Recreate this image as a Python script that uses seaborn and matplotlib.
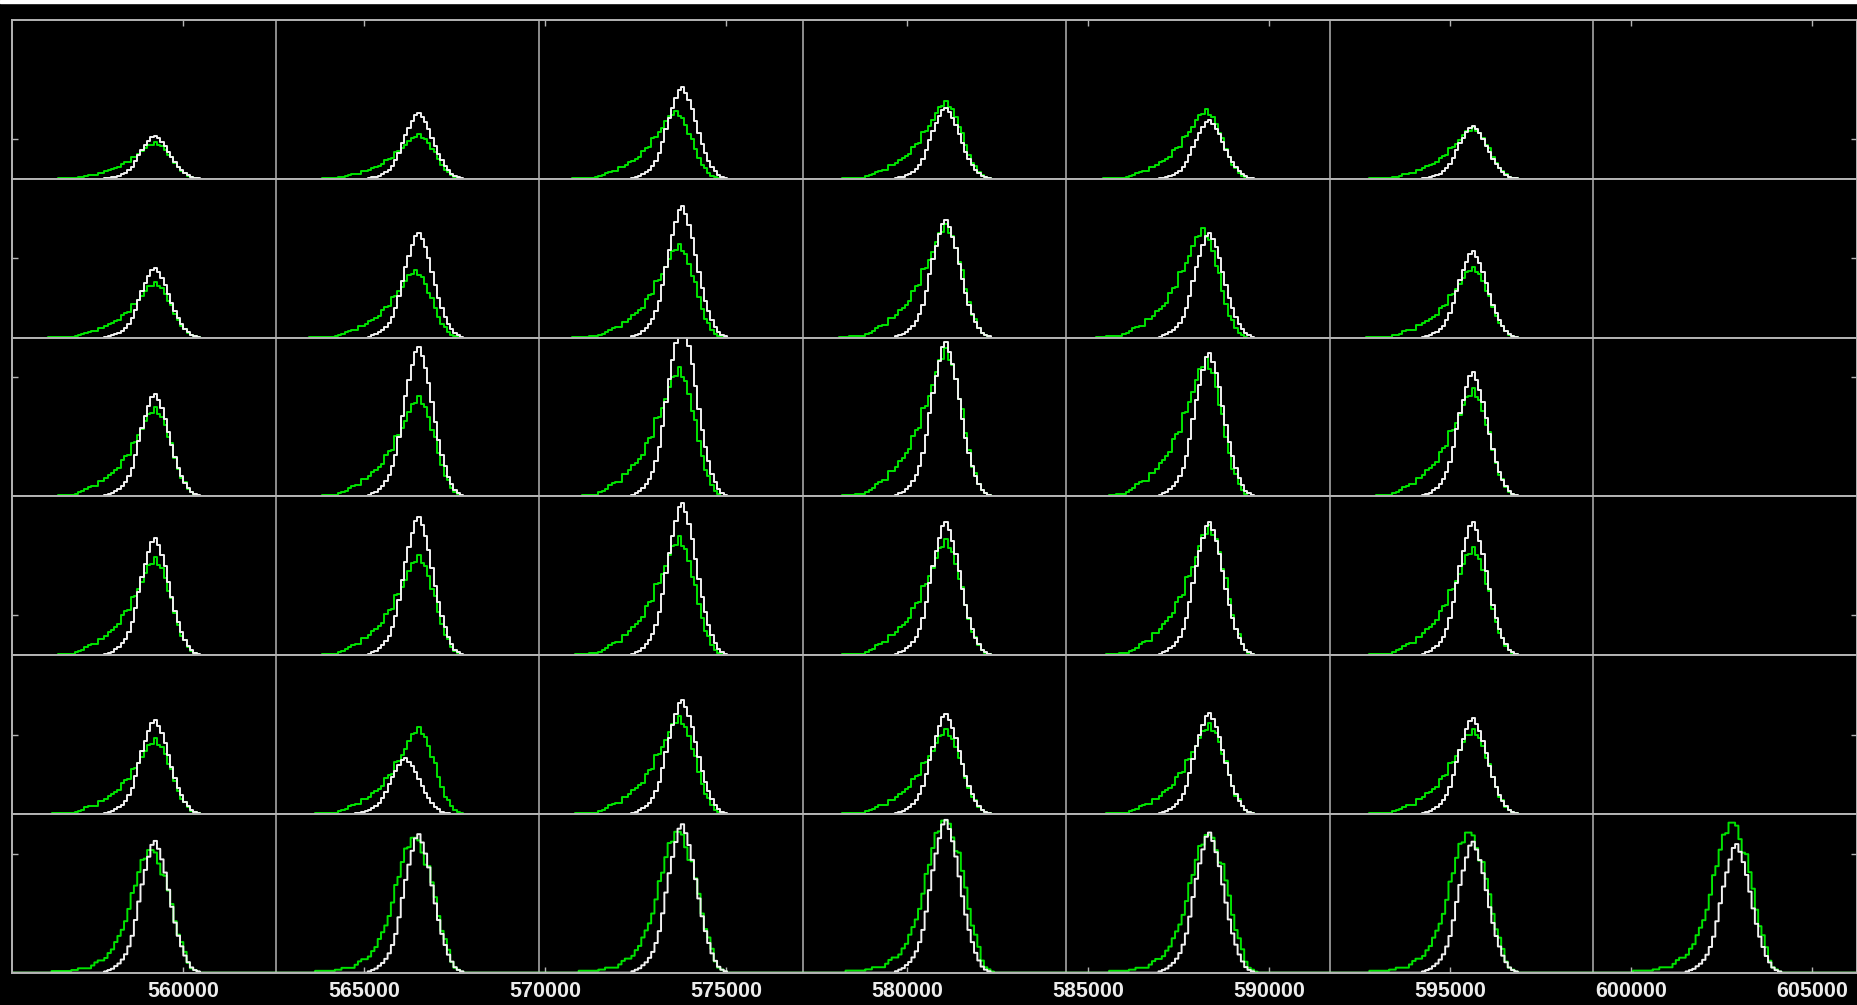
import numpy as np
import matplotlib
matplotlib.use("Agg")
import matplotlib.pyplot as plt
from matplotlib.patches import Rectangle
import seaborn as sns

# x axis: 7 panels side by side, 80 bins each
x_start = 555280
panel_width = 7280
n_bins = 80
n_rows, n_cols = 6, 7
row_height = 4
xtick_values = [560000, 565000, 570000, 575000, 580000, 585000, 590000, 595000, 600000, 605000]
xtick_labels = [str(v) for v in xtick_values]
ytick_values = [3, 6, 9, 15, 18, 21]   # on the stacked scale, rows are 4 high

# peak shapes (normalised to their maximum)
white_shape = [0.01, 0.02, 0.03, 0.05, 0.07, 0.10, 0.14, 0.20, 0.28, 0.40, 0.54, 0.67, 0.78, 0.88,
               0.97, 1.00, 0.94, 0.86, 0.76, 0.63, 0.50, 0.38, 0.28, 0.20, 0.13, 0.08, 0.04, 0.02, 0.01]
white_start = 28
green_tail_shape = [0.003, 0.006, 0.006, 0.011, 0.011, 0.014, 0.014, 0.014, 0.03, 0.043, 0.057, 0.086,
                    0.10, 0.11, 0.11, 0.17, 0.17, 0.20, 0.24, 0.26, 0.29, 0.32, 0.41, 0.45, 0.46, 0.60,
                    0.61, 0.68, 0.75, 0.84, 0.92, 0.93, 1.00, 0.92, 0.89, 0.79, 0.66, 0.59, 0.43, 0.31,
                    0.20, 0.16, 0.086, 0.043, 0.02, 0.006]
green_tail_start = 11
green_clean_shape = [0.014, 0.014, 0.014, 0.014, 0.014, 0.014, 0.022, 0.022, 0.036, 0.036, 0.036, 0.036,
                     0.059, 0.084, 0.10, 0.10, 0.12, 0.16, 0.19, 0.25, 0.30, 0.35, 0.42, 0.52, 0.65, 0.71,
                     0.82, 0.92, 0.93, 1.00, 1.00, 0.98, 0.89, 0.80, 0.79, 0.67, 0.56, 0.42, 0.31, 0.25,
                     0.17, 0.08, 0.036, 0.022, 0.008]
green_clean_start = 13

# peak heights per panel (row units, 0..4), rows top to bottom
white_peak = [
    [1.09, 1.65, 2.30, 1.79, 1.47, 1.33, 0],
    [1.75, 2.64, 3.31, 2.96, 2.64, 2.17, 0],
    [2.58, 3.76, 4.40, 3.88, 3.61, 3.12, 0],
    [2.94, 3.49, 3.84, 3.35, 3.35, 3.35, 0],
    [2.36, 1.40, 2.87, 2.51, 2.55, 2.42, 0],
    [3.32, 3.49, 3.74, 3.85, 3.53, 3.30, 3.24],
]
green_peak = [
    [0.92, 1.13, 1.72, 1.97, 1.75, 1.30, 0],
    [1.40, 1.71, 2.36, 2.87, 2.75, 1.79, 0],
    [2.26, 2.52, 3.27, 3.73, 3.50, 2.73, 0],
    [2.46, 2.52, 2.99, 2.92, 3.28, 2.73, 0],
    [1.90, 2.18, 2.47, 2.13, 2.28, 2.15, 0],
    [3.09, 3.40, 3.55, 3.83, 3.47, 3.53, 3.78],
]
# peak offsets in bins
white_shift = [
    [0, 0, 0, 0, 0, 0, 0],
    [0, 0, 0, 0, 0, 0, 0],
    [0, 0, 0, 0, 0, 0, 0],
    [0, 0, 0, 0, 0, 0, 0],
    [0, -4, 0, 0, 0, 0, 0],
    [0, 0, 0, 0, 0, 0, 0],
]
green_shift = [
    [0, 0, -2, 0, -1, 0, 0],
    [0, -1, -1, 0, -2, 0, 0],
    [0, 0, -1, 0, -1, 0, 0],
    [0, 0, -1, 0, 0, 0, 0],
    [0, 0, -1, 0, 0, 0, 0],
    [-1, -1, -1, 0, 0, -1, -1],
]

white_color = "#f2f2f2"
green_color = "#00e400"
frame_color = "#b4b4b4"


def row_counts(shape, start, peaks, shifts, ncols):
    counts = np.zeros(ncols * n_bins)
    for c in range(ncols):
        if peaks[c] <= 0:
            continue
        i0 = c * n_bins + start + shifts[c]
        counts[i0:i0 + len(shape)] += peaks[c] * np.asarray(shape)
    return counts


sns.set_style("dark")
plt.rcParams["font.family"] = ["Liberation Sans", "DejaVu Sans"]
plt.rcParams["font.weight"] = "bold"

fig, axes = plt.subplots(n_rows, 1, figsize=(18.58, 10.05), dpi=100, sharex=True)
fig.patch.set_facecolor("black")
fig.subplots_adjust(left=12 / 1858, right=1857 / 1858, top=1 - 20 / 1005, bottom=1 - 972.7 / 1005, hspace=0)

bin_w = panel_width / n_bins
x_end = x_start + n_cols * panel_width

for r, ax in enumerate(axes):
    ax.set_facecolor("black")
    ncols = n_cols if r == n_rows - 1 else n_cols - 1
    edges = x_start + np.arange(ncols * n_bins + 1) * bin_w
    centers = (edges[:-1] + edges[1:]) / 2

    gshape = green_clean_shape if r == n_rows - 1 else green_tail_shape
    gstart = green_clean_start if r == n_rows - 1 else green_tail_start
    gcounts = row_counts(gshape, gstart, green_peak[r], green_shift[r], ncols)
    wcounts = row_counts(white_shape, white_start, white_peak[r], white_shift[r], ncols)

    sns.histplot(x=centers, weights=gcounts, bins=list(edges), element="step", fill=False,
                 color=green_color, linewidth=1.4, ax=ax)
    sns.histplot(x=centers, weights=wcounts, bins=list(edges), element="step", fill=False,
                 color=white_color, linewidth=1.4, ax=ax)

    for c in range(1, n_cols):
        ax.axvline(x_start + c * panel_width, color=frame_color, lw=1.1, zorder=0)

    ax.set_xlim(x_start, x_end)
    ax.set_ylim(0, row_height)
    ax.set_xlabel("")
    ax.set_ylabel("")
    ax.grid(False)
    for s in ax.spines.values():
        s.set_color(frame_color)
        s.set_linewidth(1.4)
        s.set_visible(True)

    base = (n_rows - 1 - r) * row_height
    local = [v - base for v in ytick_values if base < v < base + row_height]
    ax.set_yticks(local)
    ax.tick_params(axis="y", direction="in", left=True, right=True, labelleft=False,
                   length=4.5, width=1, color=frame_color)

    ax.tick_params(axis="x", direction="in", top=(r == 0), bottom=(r == n_rows - 1),
                   labelbottom=(r == n_rows - 1), length=4.5, width=1, color=frame_color,
                   labelcolor="#ececec", labelsize=15.5, pad=6)

axes[-1].set_xticks(xtick_values)
axes[-1].set_xticklabels(xtick_labels, fontweight="bold")

fig.patches.append(Rectangle((0, 1 - 3 / 1005), 1, 3 / 1005, transform=fig.transFigure,
                             color="white", zorder=10))

fig.savefig("out.png", dpi=100, facecolor="black")
